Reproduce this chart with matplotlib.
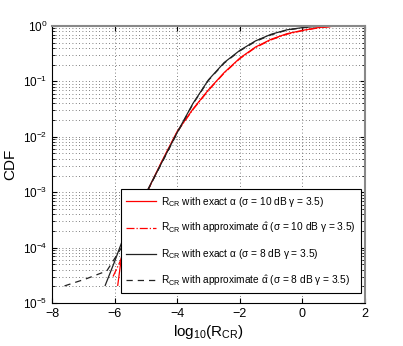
import numpy as np
import matplotlib
matplotlib.use('Agg')
from matplotlib import pyplot as plt
from matplotlib.ticker import LogLocator, NullFormatter

plt.rcParams['font.family'] = ['Liberation Sans', 'DejaVu Sans']
plt.rcParams['mathtext.fontset'] = 'custom'
plt.rcParams['mathtext.rm'] = 'Liberation Sans'
plt.rcParams['mathtext.it'] = 'Liberation Sans:italic'
plt.rcParams['mathtext.default'] = 'regular'

# sigma = 10 dB, exact alpha
x_10_exact = [-5.9, -5.8, -5.7, -5.5, -5.0, -4.5, -4.0, -3.5, -3.0, -2.5, -2.0, -1.5, -1.0, -0.5, 0.0, 0.5, 1.0, 1.3]
logy_10_exact = [-4.68, -4.25, -3.85, -3.58, -3.03, -2.45, -1.90, -1.50, -1.15, -0.84, -0.58, -0.38, -0.24, -0.14, -0.08, -0.03, -0.005, 0.0]
# sigma = 10 dB, approximate alpha
x_10_approx = [-6.05, -5.8, -5.6, -5.3, -5.0, -4.5, -4.0, -3.5, -3.0, -2.5, -2.0, -1.5, -1.0, -0.5, 0.0, 0.5, 1.0, 1.3]
logy_10_approx = [-4.52, -4.22, -3.85, -3.40, -3.04, -2.46, -1.91, -1.51, -1.16, -0.85, -0.59, -0.39, -0.25, -0.15, -0.085, -0.035, -0.006, 0.0]
# sigma = 8 dB, exact alpha
x_8_exact = [-6.3, -6.0, -5.75, -5.5, -5.0, -4.5, -4.0, -3.5, -3.0, -2.5, -2.0, -1.5, -1.0, -0.5, 0.0, 0.5, 0.8]
logy_8_exact = [-4.68, -4.25, -3.87, -3.55, -3.02, -2.47, -1.92, -1.40, -0.97, -0.66, -0.44, -0.27, -0.15, -0.07, -0.03, -0.005, 0.0]
# sigma = 8 dB, approximate alpha
x_8_approx = [-7.6, -6.9, -6.25, -5.78, -5.5, -5.0, -4.5, -4.0, -3.5, -3.0, -2.5, -2.0, -1.5, -1.0, -0.5, 0.0, 0.5, 0.8]
logy_8_approx = [-4.69, -4.56, -4.42, -4.0, -3.56, -3.03, -2.48, -1.93, -1.41, -0.98, -0.67, -0.45, -0.28, -0.16, -0.075, -0.032, -0.006, 0.0]

labels = [r'R$_{CR}$ with exact $\alpha$ ($\sigma$ = 10 dB $\gamma$ = 3.5)',
          r'R$_{CR}$ with approximate $\hat{\alpha}$ ($\sigma$ = 10 dB $\gamma$ = 3.5)',
          r'R$_{CR}$ with exact $\alpha$ ($\sigma$ = 8 dB $\gamma$ = 3.5)',
          r'R$_{CR}$ with approximate $\hat{\alpha}$ ($\sigma$ = 8 dB $\gamma$ = 3.5)']

fig = plt.figure(figsize=(4.03, 3.46), dpi=100)
ax = fig.add_axes([0.129, 0.124, 0.777, 0.801])

ax.plot(x_10_exact, 10 ** np.array(logy_10_exact), color='red', lw=0.9, label=labels[0])
ax.plot(x_10_approx, 10 ** np.array(logy_10_approx), color='red', lw=0.9, ls='-.', label=labels[1])
ax.plot(x_8_exact, 10 ** np.array(logy_8_exact), color='#222222', lw=0.9, label=labels[2])
ax.plot(x_8_approx, 10 ** np.array(logy_8_approx), color='#222222', lw=0.9, ls=(0, (5, 4)), label=labels[3])

ax.set_yscale('log')
ax.set_xlim(-8, 2)
ax.set_ylim(1e-5, 1)
ax.set_xticks([-8, -6, -4, -2, 0, 2])
ax.yaxis.set_major_locator(LogLocator(base=10, numticks=10))
ax.yaxis.set_minor_locator(LogLocator(base=10, subs=np.arange(2, 10), numticks=10))
ax.yaxis.set_minor_formatter(NullFormatter())
ax.grid(True, which='major', axis='both', ls=(0, (1, 3)), color='#555555', lw=0.6)
ax.grid(True, which='minor', axis='y', ls=(0, (1, 3)), color='#555555', lw=0.6)
ax.tick_params(direction='in', top=True, right=True, which='both', labelsize=8.5)
ax.tick_params(axis='x', labelsize=9)
ax.tick_params(which='minor', length=2)
for s in ['top', 'right']:
    ax.spines[s].set_color('#888888')
    ax.spines[s].set_linewidth(1.5)

ax.set_xlabel(r'log$_{10}$(R$_{CR}$)', fontsize=11, labelpad=2)
ax.set_ylabel('CDF', fontsize=11)
ax.yaxis.set_label_coords(-0.11, 0.5)

leg = ax.legend(loc='lower right', bbox_to_anchor=(0.987, 0.036), fontsize=7.3,
                fancybox=False, framealpha=1, edgecolor='black',
                handlelength=2.9, handletextpad=0.5, borderaxespad=0,
                labelspacing=1.15, borderpad=0.55)
leg.get_frame().set_linewidth(0.8)

fig.savefig('out.png', dpi=100)
